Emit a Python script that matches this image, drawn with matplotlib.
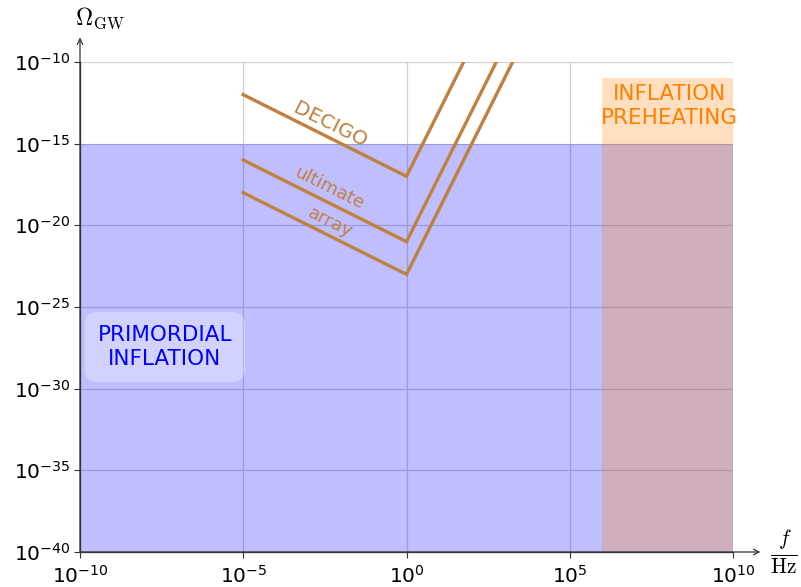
import numpy as np
import matplotlib
matplotlib.use('Agg')
import matplotlib.pyplot as plt

# detector sensitivity curves: f^-1 down to 1 Hz, then f^4 up to the top of the plot
decigo_f = [1e-5, 1e0, 10**1.75]
decigo_omega = [1e-12, 1e-17, 1e-10]
ultimate_f = [1e-5, 1e0, 10**2.75]
ultimate_omega = [1e-16, 1e-21, 1e-10]
array_f = [1e-5, 1e0, 10**3.25]
array_omega = [1e-18, 1e-23, 1e-10]

# shaded regions
primordial_f = [1e-10, 1e10]
primordial_omega = [1e-40, 1e-15]
preheating_f = [1e6, 1e10]
preheating_omega = [1e-40, 1e-11]

x_ticks = [1e-10, 1e-5, 1e0, 1e5, 1e10]
y_ticks = [1e-40, 1e-35, 1e-30, 1e-25, 1e-20, 1e-15, 1e-10]

BROWN = '#bf8040'

fig = plt.figure(figsize=(8.01, 5.87), dpi=100)
ax = fig.add_axes([80 / 801, 1 - 552 / 587, (733 - 80) / 801, (552 - 62) / 587])
ax.set_xscale('log')
ax.set_yscale('log')
ax.set_xlim(x_ticks[0], x_ticks[-1])
ax.set_ylim(y_ticks[0], y_ticks[-1])

ax.set_xticks(x_ticks)
ax.set_yticks(y_ticks)
ax.minorticks_off()
ax.grid(True, color='#d0d0d0', lw=0.9)
ax.set_axisbelow(True)
ax.tick_params(labelsize=14.5, direction='out', length=4, width=0.8, color='#333333')
ax.tick_params(axis='x', pad=5)
ax.tick_params(axis='y', pad=3)

for s in ['top', 'right']:
    ax.spines[s].set_visible(False)
for s in ['left', 'bottom']:
    ax.spines[s].set_color('#333333')
    ax.spines[s].set_linewidth(0.9)

ax.fill_between(primordial_f, primordial_omega[0], primordial_omega[1],
                color=(0, 0, 1), alpha=0.25, lw=0, zorder=1)
ax.fill_between(preheating_f, preheating_omega[0], preheating_omega[1],
                color=(1, 0.5, 0), alpha=0.25, lw=0, zorder=2)

for f, om in [(decigo_f, decigo_omega), (ultimate_f, ultimate_omega), (array_f, array_omega)]:
    ax.plot(f, om, color=BROWN, lw=2.4, zorder=3, solid_joinstyle='miter')

ax.text(10**-2.35, 10**-13.85, 'DECIGO', color=BROWN, fontsize=14.5, rotation=-26.5,
        ha='center', va='center')
ax.text(10**-2.35, 10**-17.75, 'ultimate', color=BROWN, fontsize=13, rotation=-26.5,
        ha='center', va='center')
ax.text(10**-2.35, 10**-19.8, 'array', color=BROWN, fontsize=13, rotation=-26.5,
        ha='center', va='center')

ax.text(10**-7.4, 10**-27.45, 'PRIMORDIAL\nINFLATION', color='#0000ff', fontsize=15.5,
        ha='center', va='center', linespacing=1.25,
        bbox=dict(boxstyle='round,pad=0.6', fc='white', ec='none', alpha=0.3))
ax.text(10**8.05, 10**-12.7, 'INFLATION\nPREHEATING', color='#ff8000', fontsize=15.5,
        ha='center', va='center', linespacing=1.25)

# axis arrows
ax.annotate('', xy=(0, 1.05), xytext=(0, 0), xycoords='axes fraction',
            arrowprops=dict(arrowstyle='->', color='#333333', lw=0.9, shrinkA=0, shrinkB=0))
ax.annotate('', xy=(1.042, 0), xytext=(0, 0), xycoords='axes fraction',
            arrowprops=dict(arrowstyle='->', color='#333333', lw=0.9, shrinkA=0, shrinkB=0))

fig.text(100 / 801, 1 - 18 / 587, r'$\Omega_{\mathrm{GW}}$', fontsize=17,
         ha='center', va='center', math_fontfamily='cm')
fig.text(784 / 801, 1 - 552 / 587, r'$\frac{f}{\mathrm{Hz}}$', fontsize=22,
         ha='center', va='center', math_fontfamily='cm')

fig.savefig('out.png', dpi=100)
